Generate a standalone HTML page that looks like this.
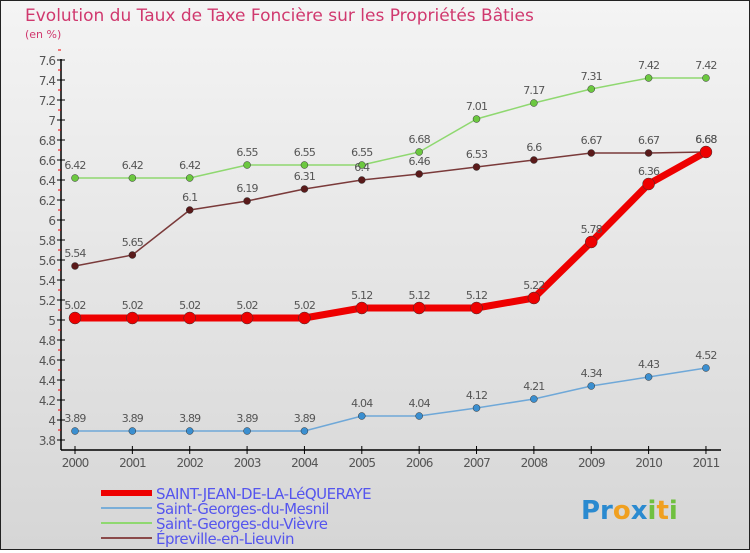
<!DOCTYPE html>
<html><head><meta charset="utf-8"><style>
body{margin:0}
#c{width:750px;height:550px;position:relative;background:linear-gradient(#f4f4f4,#d6d6d6);box-sizing:border-box;border:1px solid #222;font-family:"DejaVu Sans","Liberation Sans",sans-serif}
</style></head><body>
<div id="c">
<svg id="s" width="748" height="548"></svg>
</div>
<script>
const years=["2000","2001","2002","2003","2004","2005","2006","2007","2008","2009","2010","2011"];
const sjValues=[5.02,5.02,5.02,5.02,5.02,5.12,5.12,5.12,5.22,5.78,6.36,6.68];
const mesnilValues=[3.89,3.89,3.89,3.89,3.89,4.04,4.04,4.12,4.21,4.34,4.43,4.52];
const vievreValues=[6.42,6.42,6.42,6.55,6.55,6.55,6.68,7.01,7.17,7.31,7.42,7.42];
const epreValues=[5.54,5.65,6.1,6.19,6.31,6.4,6.46,6.53,6.6,6.67,6.67,6.68];
const yTicks=[3.8,4,4.2,4.4,4.6,4.8,5,5.2,5.4,5.6,5.8,6,6.2,6.4,6.6,6.8,7,7.2,7.4,7.6];
const NS="http://www.w3.org/2000/svg",s=document.getElementById('s');
const X=i=>74+i*57.36, Y=v=>439-(v-3.8)*100;
function el(t,a,p){const e=document.createElementNS(NS,t);for(const k in a)e.setAttribute(k,a[k]);(p||s).appendChild(e);return e;}
function tx(x,y,str,a){const e=el('text',Object.assign({x:x,y:y},a));e.textContent=str;return e;}
let t=tx(24,20,"Evolution du Taux de Taxe Foncière sur les Propriétés Bâties",{fill:"#d0386e","font-size":17});

t=tx(24,37,"(en %)",{fill:"#d0386e","font-size":11});

let ax=el('line',{x1:60,y1:58,x2:60,y2:449,stroke:"#000","stroke-width":1.5});

ax=el('line',{x1:60,y1:449,x2:720,y2:449,stroke:"#000","stroke-width":1.5});

yTicks.forEach(v=>{
 const y=Y(v);
 const l=el('line',{x1:56,y1:y,x2:64,y2:y,stroke:"#000"});
 
 const m=el('line',{x1:57,y1:y-10,x2:60,y2:y-10,stroke:"#e00"});
 
 const lb=tx(54,y+5,String(v),{"text-anchor":"end","font-size":12,fill:"#555","letter-spacing":"-1"});
 
});
years.forEach((yr,i)=>{
 const l=el('line',{x1:X(i),y1:445,x2:X(i),y2:453,stroke:"#000"});
 
 const lb=tx(X(i),466,yr,{"text-anchor":"middle","font-size":12,fill:"#555","letter-spacing":"-1"});
 
});
function series(vals,color,dot,w,r,name){
 const g=el('g',{});
 
 const p=el('polyline',{points:vals.map((v,i)=>X(i)+","+Y(v)).join(" "),fill:"none",stroke:color,"stroke-width":w,"stroke-linejoin":"round"},g);
 
 vals.forEach((v,i)=>{
  const c=el('circle',{cx:X(i),cy:Y(v),r:r,fill:dot,stroke:"#333","stroke-width":0.5},g);
  
  const lb=tx(X(i),Y(v)-9,String(v),{"text-anchor":"middle","font-size":11,fill:"#555","letter-spacing":"-0.8"},g);
  
 });
}
series(mesnilValues,"#6fa8d8","#3b8fd0",1.5,3.5,"saint-georges-du-mesnil");
series(vievreValues,"#8fd870","#6cc840",1.5,3.5,"saint-georges-du-vievre");
series(epreValues,"#7a3a3a","#5a1a1a",1.5,3.5,"epreville-en-lieuvin");
series(sjValues,"#ee0000","#ee0000",7,6,"saint-jean-de-la-lequeraye");
const leg=[["SAINT-JEAN-DE-LA-LéQUERAYE","#ee0000",6],["Saint-Georges-du-Mesnil","#7aaed8",2],["Saint-Georges-du-Vièvre","#8fd870",2],["Épreville-en-Lieuvin","#8a4a4a",2]];
leg.forEach((d,i)=>{
 const y=492+i*15;
 const l=el('line',{x1:100,y1:y,x2:151,y2:y,stroke:d[1],"stroke-width":d[2]});
 
 const lb=tx(155,y+6,d[0],{"font-size":15,fill:"#5555ee","letter-spacing":"-0.5"});
 
});
const lg=tx(580,518,"",{"font-size":26,"font-weight":"bold"});

[["Pr","#2a8ad0"],["o","#f0a020"],["x","#2a8ad0"],["i","#70c040"],["t","#f0a020"],["i","#70c040"]].forEach(p=>{const ts=el('tspan',{fill:p[1]},lg);ts.textContent=p[0];});
</script>
</body></html>
